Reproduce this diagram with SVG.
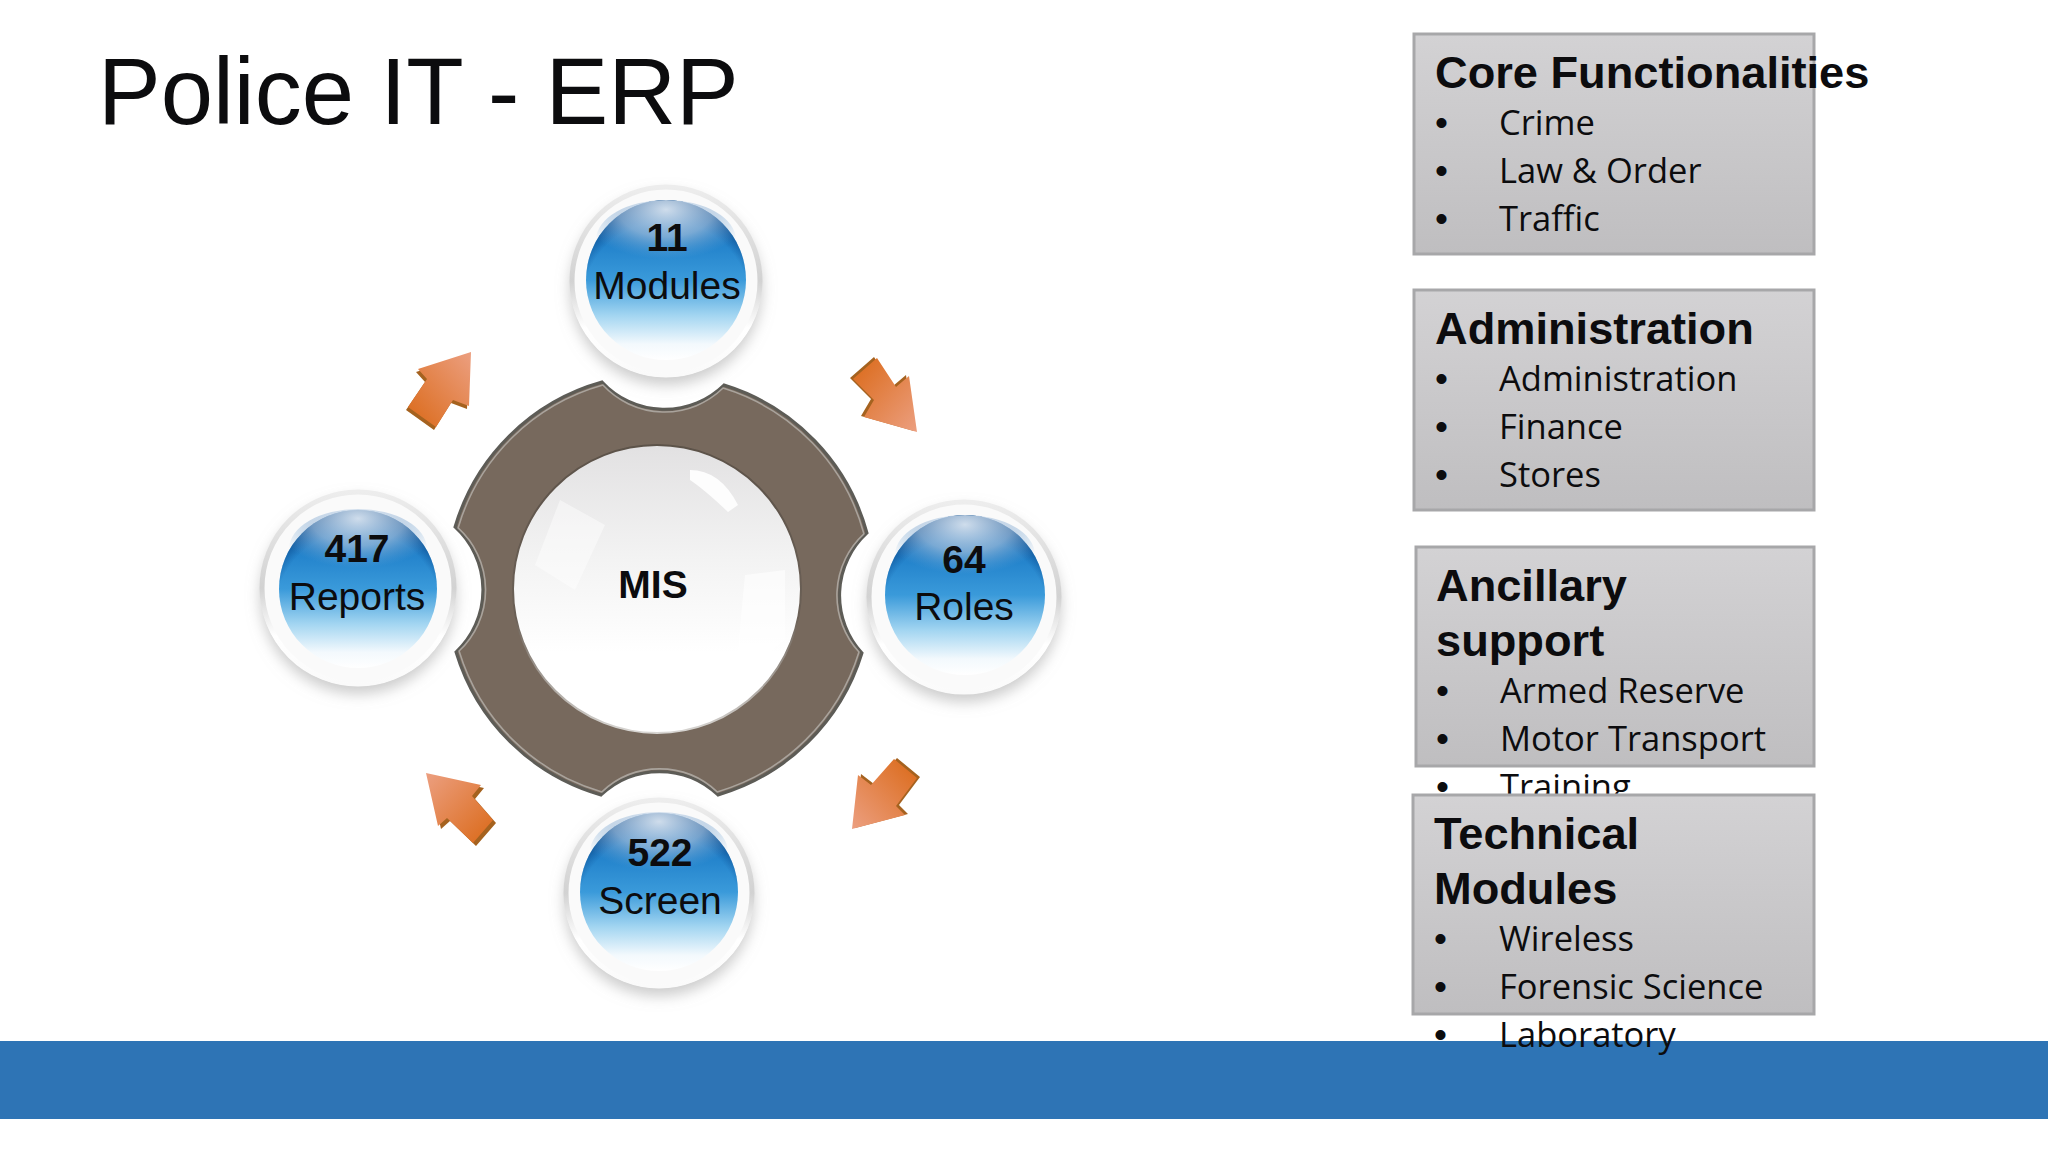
<svg xmlns="http://www.w3.org/2000/svg" width="2048" height="1152" viewBox="0 0 2048 1152">
<style>
text{font-family:"Liberation Sans",Arial,sans-serif;fill:#0c0c0e}
.title{font-size:94px}
.h{font-size:45.2px;font-weight:700}
.i{font-family:"Open Sans","Noto Sans",sans-serif;font-size:34.5px}
.b{font-size:37px}
.n{font-size:39px;text-anchor:middle}
.nb{font-weight:700}
.box{fill:url(#boxg);stroke:#a7a7a9;stroke-width:3}
.halo{fill:#fafafa;filter:url(#sh)}
.edge{fill:none;stroke:url(#edgeg);stroke-width:5}
.blue{fill:url(#blueg)}
.rim{fill:url(#rimg)}
.gl{fill:url(#glg)}
.ab{fill:#a5621f}
</style>
<defs>
<linearGradient id="boxg" x1="0" y1="0" x2="0" y2="1"><stop offset="0" stop-color="#d3d2d4"/><stop offset="1" stop-color="#bfbec0"/></linearGradient>
<linearGradient id="edgeg" x1="0" y1="0" x2="0" y2="1"><stop offset="0" stop-color="#ededed"/><stop offset=".5" stop-color="#d2d2d2"/><stop offset=".75" stop-color="#ffffff"/><stop offset="1" stop-color="#fafafa"/></linearGradient>
<linearGradient id="blueg" x1="0" y1="0" x2="0" y2="1"><stop offset="0" stop-color="#1a66ad"/><stop offset=".3" stop-color="#2585cd"/><stop offset=".5" stop-color="#3a9ada"/><stop offset=".72" stop-color="#a2d5f1"/><stop offset=".9" stop-color="#f3f9fd"/><stop offset="1" stop-color="#ffffff"/></linearGradient>
<radialGradient id="rimg" cx=".5" cy=".66" r=".66"><stop offset=".8" stop-color="#0b4f96" stop-opacity="0"/><stop offset="1" stop-color="#08407c" stop-opacity="1"/></radialGradient>
<radialGradient id="glg" cx=".5" cy=".12" r=".62"><stop offset="0" stop-color="#d9e4f0" stop-opacity=".95"/><stop offset=".55" stop-color="#a9c3de" stop-opacity=".65"/><stop offset="1" stop-color="#6fa6d6" stop-opacity="0"/></radialGradient>
<linearGradient id="a1" x1="0" y1="1" x2="1" y2="0"><stop offset=".15" stop-color="#dd7127"/><stop offset="1" stop-color="#ec9f80"/></linearGradient>
<linearGradient id="a2" x1="0" y1="0" x2="1" y2="1"><stop offset=".15" stop-color="#dd7127"/><stop offset="1" stop-color="#ec9f80"/></linearGradient>
<linearGradient id="a3" x1="1" y1="0" x2="0" y2="1"><stop offset=".15" stop-color="#dd7127"/><stop offset="1" stop-color="#ec9f80"/></linearGradient>
<linearGradient id="a4" x1="1" y1="1" x2="0" y2="0"><stop offset=".15" stop-color="#dd7127"/><stop offset="1" stop-color="#ec9f80"/></linearGradient>
<linearGradient id="lensg" x1="0" y1="0" x2="0" y2="1"><stop offset="0" stop-color="#e2e1e2"/><stop offset=".4" stop-color="#f3f3f3"/><stop offset=".72" stop-color="#ffffff"/></linearGradient>
<linearGradient id="lensrim" x1="0" y1="0" x2="0" y2="1"><stop offset="0" stop-color="#5c5249"/><stop offset=".6" stop-color="#6b6056"/><stop offset="1" stop-color="#d8d6d3"/></linearGradient>
<filter id="sh" x="-30%" y="-30%" width="160%" height="160%"><feGaussianBlur in="SourceAlpha" stdDeviation="7"/><feOffset dx="0" dy="8"/><feColorMatrix values="0 0 0 0 .5 0 0 0 0 .5 0 0 0 0 .5 0 0 0 .75 0"/><feMerge><feMergeNode/><feMergeNode in="SourceGraphic"/></feMerge></filter>
<filter id="soft" x="-5%" y="-5%" width="110%" height="110%"><feGaussianBlur stdDeviation=".7"/></filter>
</defs>
<rect width="2048" height="1152" fill="#ffffff"/>
<rect id="bar" x="0" y="1041" width="2048" height="78" fill="#2e74b5"/>
<text class="title" x="98" y="124">Police IT - ERP</text>

<g id="ring">
<g filter="url(#soft)">
<path d="M602 382A85 85 0 0 0 724 385A213 213 0 0 1 867 533A85 85 0 0 0 862 653A213 213 0 0 1 718 795A85 85 0 0 0 601 795A213 213 0 0 1 456 652A85 85 0 0 0 455 527A213 213 0 0 1 602 382Z" fill="#77695d" stroke="#5d5b57" stroke-width="3"/>
<path d="M602 382A85 85 0 0 0 724 385A213 213 0 0 1 867 533A85 85 0 0 0 862 653A213 213 0 0 1 718 795A85 85 0 0 0 601 795A213 213 0 0 1 456 652A85 85 0 0 0 455 527A213 213 0 0 1 602 382Z" fill="none" stroke="#a9a39c" stroke-width="1.6" transform="translate(661 588) scale(.985) translate(-661 -588)"/>
<circle cx="657" cy="589" r="144" fill="url(#lensg)" stroke="url(#lensrim)" stroke-width="2"/>
<path d="M560 500L605 525L575 590L535 565Z" fill="#ffffff" opacity=".45"/>
<path d="M690 470Q720 470 738 505L728 512Q705 490 690 480Z" fill="#ffffff" opacity=".9"/>
<path d="M745 575L785 570L785 640L735 680Z" fill="#ffffff" opacity=".6"/>
</g>
<text class="n nb" x="653" y="598">MIS</text>
</g>

<g id="node-modules">
<circle class="halo" cx="666" cy="281" r="96"/><circle class="edge" cx="666" cy="281" r="94"/>
<circle class="blue" cx="666" cy="280" r="80"/><circle class="rim" cx="666" cy="280" r="80"/>
<ellipse class="gl" cx="666" cy="240" rx="70" ry="40"/>
<text class="n nb" x="667" y="251">11</text><text class="n" x="667" y="299">Modules</text>
</g>
<g id="node-roles">
<circle class="halo" cx="964" cy="597" r="97"/><circle class="edge" cx="964" cy="597" r="95"/>
<circle class="blue" cx="965" cy="595" r="80"/><circle class="rim" cx="965" cy="595" r="80"/>
<ellipse class="gl" cx="965" cy="555" rx="70" ry="40"/>
<text class="n nb" x="964" y="573">64</text><text class="n" x="964" y="620">Roles</text>
</g>
<g id="node-screen">
<circle class="halo" cx="659" cy="893" r="95"/><circle class="edge" cx="659" cy="893" r="93"/>
<circle class="blue" cx="659" cy="892" r="79"/><circle class="rim" cx="659" cy="892" r="79"/>
<ellipse class="gl" cx="659" cy="852" rx="69" ry="40"/>
<text class="n nb" x="660" y="866">522</text><text class="n" x="660" y="914">Screen</text>
</g>
<g id="node-reports">
<circle class="halo" cx="358" cy="588" r="98"/><circle class="edge" cx="358" cy="588" r="96"/>
<circle class="blue" cx="358" cy="589" r="79"/><circle class="rim" cx="358" cy="589" r="79"/>
<ellipse class="gl" cx="358" cy="549" rx="69" ry="40"/>
<text class="n nb" x="357" y="562">417</text><text class="n" x="357" y="610">Reports</text>
</g>

<g id="connectors">
<polygon class="ab" transform="translate(-2 3)" points="471,352 469,406 453,400 436,427 408,407 427,379 418,369"/>
<polygon fill="url(#a1)" points="471,352 469,406 453,400 436,427 408,407 427,379 418,369"/>
<polygon class="ab" transform="translate(-3 -1)" points="877,358 896,387 909,376 917,432 864,417 874,400 853,379"/>
<polygon fill="url(#a2)" points="877,358 896,387 909,376 917,432 864,417 874,400 853,379"/>
<polygon class="ab" transform="translate(3 -1)" points="858,775 871,785 894,759 917,778 896,806 905,815 852,829"/>
<polygon fill="url(#a3)" points="858,775 871,785 894,759 917,778 896,806 905,815 852,829"/>
<polygon class="ab" transform="translate(3 3)" points="426,773 481,785 472,796 493,820 473,843 447,818 438,826"/>
<polygon fill="url(#a4)" points="426,773 481,785 472,796 493,820 473,843 447,818 438,826"/>
</g>

<g id="box-core">
<rect class="box" x="1414" y="34" width="400" height="220"/>
<text class="h" x="1435" y="88">Core Functionalities</text>
<text class="b" x="1435" y="135">•</text><text class="i" x="1499" y="135">Crime</text>
<text class="b" x="1435" y="183">•</text><text class="i" x="1499" y="183">Law &amp; Order</text>
<text class="b" x="1435" y="231">•</text><text class="i" x="1499" y="231">Traffic</text>
</g>
<g id="box-admin">
<rect class="box" x="1414" y="290" width="400" height="220"/>
<text class="h" x="1435" y="344">Administration</text>
<text class="b" x="1435" y="391">•</text><text class="i" x="1499" y="391">Administration</text>
<text class="b" x="1435" y="439">•</text><text class="i" x="1499" y="439">Finance</text>
<text class="b" x="1435" y="487">•</text><text class="i" x="1499" y="487">Stores</text>
</g>
<g id="box-ancillary">
<rect class="box" x="1416" y="547" width="398" height="219"/>
<text class="h" x="1436" y="601">Ancillary</text>
<text class="h" x="1436" y="656">support</text>
<text class="b" x="1436" y="703">•</text><text class="i" x="1500" y="703">Armed Reserve</text>
<text class="b" x="1436" y="751">•</text><text class="i" x="1500" y="751">Motor Transport</text>
<text class="b" x="1436" y="799">•</text><text class="i" x="1500" y="799">Training</text>
</g>
<g id="box-technical">
<rect class="box" x="1413" y="795" width="401" height="219"/>
<text class="h" x="1434" y="849">Technical</text>
<text class="h" x="1434" y="904">Modules</text>
<text class="b" x="1434" y="951">•</text><text class="i" x="1499" y="951">Wireless</text>
<text class="b" x="1434" y="999">•</text><text class="i" x="1499" y="999">Forensic Science</text>
<text class="b" x="1434" y="1047">•</text><text class="i" x="1499" y="1047">Laboratory</text>
</g>
</svg>
